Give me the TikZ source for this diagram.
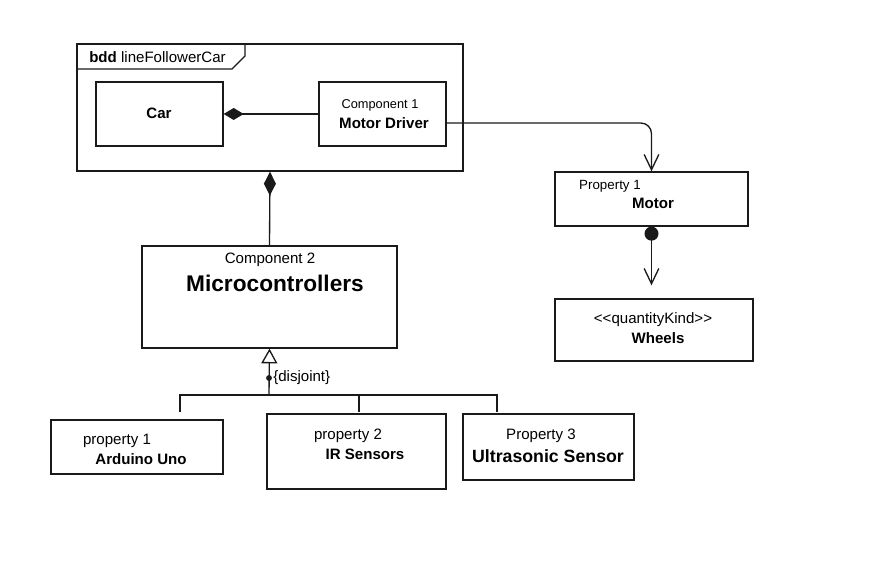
\documentclass[tikz,border=0pt]{standalone}
\usepackage{fontspec}
\setmainfont{Liberation Sans}
\usetikzlibrary{arrows.meta}
\definecolor{umlline}{HTML}{1A1A1A}

\tikzset{
  block/.style={draw=umlline, line width=1pt, inner sep=0pt},
  conn/.style={draw=umlline, line width=1pt},
  txt/.style={inner sep=0pt, font=\fontsize{11.3}{13}\selectfont},
  smalltxt/.style={inner sep=0pt, font=\fontsize{9.6}{11}\selectfont},
  bigtxt/.style={inner sep=0pt, font=\fontsize{17}{20}\selectfont\bfseries},
  compo/.style={-{Diamond[length=15pt,width=9pt]}},
  compolong/.style={-{Diamond[length=18pt,width=9pt]}},
  assoc/.style={-{Straight Barb[length=11.5pt,width=11pt,line width=1pt]}},
  generalize/.style={-{Triangle[open,length=11pt,width=12pt,line width=1pt]}}
}

\begin{document}
\begin{tikzpicture}[x=0.75pt,y=-0.75pt]
  \useasboundingbox (0,0) rectangle (869,581);
  % frame with tab
  \node[block, minimum width=289.5pt, minimum height=95.25pt] (frame) at (270,107.5) {};
  \draw[conn] (77,69) -- (232,69) -- (245,56) -- (245,44);
  \node[txt, anchor=west] (title) at (89,57) {\textbf{bdd} lineFollowerCar};
  \node[block, minimum width=95.25pt, minimum height=48pt] (car) at (159.5,114) {};
  \node[block, minimum width=95.25pt, minimum height=48pt] (driver) at (382.5,114) {};
  \node[txt] (carlbl) at (159,113) {\bfseries Car};
  \node[smalltxt] (drivertop) at (380,105) {Component 1};
  \node[txt] (driverlbl) at (384,123) {\bfseries Motor Driver};
  % right side
  \node[block, minimum width=144.75pt, minimum height=40.5pt] (motor) at (651.5,199) {};
  \node[smalltxt, font=\fontsize{10}{12}\selectfont] (motortop) at (610,186) {Property 1};
  \node[txt] (motorlbl) at (653,203) {\bfseries Motor};
  \node[block, minimum width=148.5pt, minimum height=46.5pt] (wheels) at (654,330) {};
  \node[txt] (wheelstop) at (653,320) {<\kern0pt<quantityKind>\kern0pt>};
  \node[txt] (wheelslbl) at (658,338) {\bfseries Wheels};
  % microcontrollers
  \node[block, minimum width=191.25pt, minimum height=76.5pt] (micro) at (269.5,297) {};
  \node[txt] (microtop) at (270,260) {Component 2};
  \node[bigtxt] (microlbl) at (275,283) {Microcontrollers};
  % specialisations
  \node[block, minimum width=129pt, minimum height=40.5pt] (uno) at (137,447) {};
  \node[txt] (unotop) at (117,441) {property 1};
  \node[txt] (unolbl) at (141,459) {\bfseries Arduino Uno};
  \node[block, minimum width=134.25pt, minimum height=56.25pt] (ir) at (356.5,451.5) {};
  \node[txt] (irtop) at (348,436) {property 2};
  \node[txt] (irlbl) at (365,454) {\bfseries IR Sensors};
  \node[block, minimum width=128.25pt, minimum height=49.5pt] (ultra) at (548.5,447) {};
  \node[txt] (ultratop) at (541,436) {Property 3};
  \node[txt, font=\fontsize{13.3}{15}\selectfont\bfseries] (ultralbl) at (548,456) {Ultrasonic Sensor};

  % connectors
  \draw[conn, compo] (driver.west) -- (car.east);
  \draw[conn, compolong] (micro.north) -- (frame.south);
  \draw[conn, assoc, rounded corners=8pt] ([yshift=-6.75pt]driver.east) -| (motor.north);
  \fill[umlline] ([yshift=-5.25pt]motor.south) circle (5.25pt);
  \draw[conn, assoc, shorten >=9.75pt] (motor.south) -- (motor.south |- wheels.north);
  \coordinate (trunk) at (269,395);
  \coordinate (b1) at (180,412);
  \coordinate (b2) at (359,412);
  \coordinate (b3) at (497,412);
  \draw[conn, generalize] (trunk) -- (micro.south);
  \draw[conn] (b1) |- (trunk) -| (b3);
  \draw[conn] (b2) -- (b2 |- trunk);
  \fill[umlline] (269,378) circle (2.2pt);
  \node[txt, anchor=west] (disj) at (273,378) {\{disjoint\}};
\end{tikzpicture}
\end{document}
